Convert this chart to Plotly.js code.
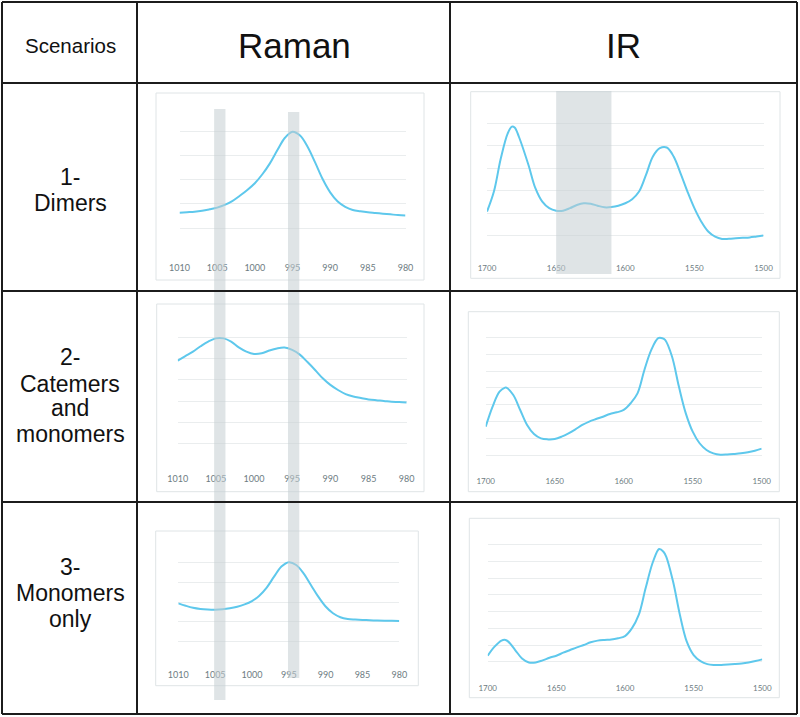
<!DOCTYPE html>
<html>
<head>
<meta charset="utf-8">
<script src="https://cdn.plot.ly/plotly-3.0.1.min.js"></script>
<style>html,body{margin:0;padding:0;background:#fff}#chart{width:800px;height:717px}</style>
</head>
<body>
<div id="chart"></div>
<script>
// ---------- data ----------
const headers = ["Scenarios", "Raman", "IR"];
const scenarioLines = [["1-", "Dimers"], ["2-", "Catemers", "and", "monomers"], ["3-", "Monomers", "only"]];

const ramanTicks = [1010, 1005, 1000, 995, 990, 985, 980];
const irTicks = [1700, 1650, 1600, 1550, 1500];

// Raman, scenario 1 (dimers)
const raman1X = [1010, 1009, 1008, 1007, 1006, 1005, 1004, 1003, 1002, 1001, 1000, 999, 998, 997, 996, 995, 994, 993, 992, 991, 990, 989, 988, 987, 986, 985, 984, 983, 982, 981, 980];
const raman1Y = [1.64, 1.66, 1.68, 1.72, 1.78, 1.85, 1.96, 2.12, 2.34, 2.58, 2.86, 3.23, 3.68, 4.23, 4.74, 4.99, 4.83, 4.37, 3.72, 3.03, 2.48, 2.10, 1.88, 1.75, 1.70, 1.66, 1.63, 1.60, 1.57, 1.54, 1.52];

// Raman, scenario 2 (catemers and monomers)
const raman2X = [1010, 1009, 1008, 1007, 1006, 1005, 1004, 1003, 1002, 1001, 1000, 999, 998, 997, 996, 995, 994, 993, 992, 991, 990, 989, 988, 987, 986, 985, 984, 983, 982, 981, 980];
const raman2Y = [4.91, 5.12, 5.33, 5.58, 5.80, 5.95, 5.95, 5.80, 5.53, 5.33, 5.22, 5.25, 5.38, 5.48, 5.52, 5.41, 5.19, 4.84, 4.47, 4.08, 3.77, 3.53, 3.34, 3.23, 3.16, 3.09, 3.05, 3.02, 2.98, 2.97, 2.95];

// Raman, scenario 3 (monomers only)
const raman3X = [1010, 1009, 1008, 1007, 1006, 1005, 1004, 1003, 1002, 1001, 1000, 999, 998, 997, 996, 995, 994, 993, 992, 991, 990, 989, 988, 987, 986, 985, 984, 983, 982, 981, 980];
const raman3Y = [2.93, 2.81, 2.71, 2.65, 2.62, 2.61, 2.63, 2.68, 2.76, 2.88, 3.05, 3.32, 3.73, 4.28, 4.79, 5.01, 4.87, 4.45, 3.86, 3.27, 2.77, 2.43, 2.23, 2.14, 2.11, 2.09, 2.08, 2.06, 2.05, 2.05, 2.04];

// IR, scenario 1
const ir1X = [1700, 1695, 1690, 1685, 1682, 1680, 1677, 1670, 1665, 1660, 1655, 1650, 1645, 1640, 1635, 1630, 1625, 1620, 1615, 1610, 1605, 1600, 1595, 1590, 1585, 1580, 1575, 1570, 1565, 1560, 1555, 1550, 1545, 1540, 1535, 1530, 1525, 1520, 1515, 1510, 1505, 1500];
const ir1Y = [2.08, 2.97, 4.45, 5.56, 5.86, 5.82, 5.42, 4.15, 3.12, 2.52, 2.23, 2.12, 2.12, 2.23, 2.37, 2.45, 2.43, 2.34, 2.27, 2.28, 2.34, 2.45, 2.63, 2.97, 3.71, 4.53, 4.90, 4.93, 4.53, 3.78, 2.97, 2.23, 1.63, 1.19, 0.96, 0.86, 0.87, 0.89, 0.91, 0.93, 0.97, 1.01];

// IR, scenario 2
const ir2X = [1700, 1695, 1690, 1686, 1685, 1680, 1675, 1670, 1665, 1660, 1655, 1650, 1645, 1640, 1635, 1630, 1625, 1620, 1615, 1610, 1605, 1600, 1595, 1590, 1585, 1580, 1575, 1572, 1570, 1565, 1560, 1555, 1550, 1545, 1540, 1535, 1530, 1525, 1520, 1515, 1510, 1505, 1500];
const ir2Y = [2.70, 3.89, 4.78, 5.02, 5.02, 4.58, 3.69, 2.80, 2.26, 2.00, 1.94, 1.96, 2.10, 2.30, 2.54, 2.80, 3.00, 3.15, 3.29, 3.45, 3.55, 3.69, 4.09, 4.68, 6.07, 7.26, 7.96, 7.96, 7.86, 6.87, 5.08, 3.49, 2.40, 1.71, 1.31, 1.11, 1.03, 1.04, 1.07, 1.11, 1.17, 1.26, 1.39];

// IR, scenario 3
const ir3X = [1700, 1695, 1690, 1687, 1685, 1680, 1675, 1670, 1665, 1660, 1655, 1650, 1645, 1640, 1635, 1630, 1625, 1620, 1615, 1610, 1605, 1600, 1595, 1590, 1585, 1580, 1576, 1575, 1572, 1570, 1565, 1560, 1555, 1550, 1545, 1540, 1535, 1530, 1525, 1520, 1515, 1510, 1505, 1500];
const ir3Y = [1.37, 1.91, 2.27, 2.31, 2.21, 1.71, 1.21, 0.97, 0.97, 1.09, 1.25, 1.37, 1.55, 1.71, 1.87, 2.01, 2.17, 2.27, 2.31, 2.33, 2.41, 2.54, 3.00, 3.80, 5.39, 6.88, 7.67, 7.73, 7.57, 7.28, 5.79, 3.80, 2.21, 1.41, 1.05, 0.87, 0.82, 0.82, 0.84, 0.87, 0.91, 0.97, 1.05, 1.15];

// highlighted regions
const ramanBand1 = [1005.4, 1003.9];
const ramanBand2 = [995.6, 994.1];
const irBand = [1650, 1610];

// ---------- layout helpers ----------
const W = 800, H = 717;
const px = x => x / W;
const py = y => 1 - y / H;

const LINE = '#5ec8ec';
const GRID = '#eaedee';
const FRAME = '#dfe4e6';
const TICKC = '#6d7c82';

// panel geometry (pixel positions in the page)
const panels = [
  {x: raman1X, y: raman1Y, xd: [179.5, 405.5], yd: [252.3, 107.3], n: 6, xr: [1010, 980], tv: ramanTicks, fs: 9, so: 8, fr: [156, 424, 93, 280]},
  {x: raman2X, y: raman2Y, xd: [177.7, 406.7], yd: [465.3, 316], n: 7, xr: [1010, 980], tv: ramanTicks, fs: 9, so: 6, fr: [156.7, 424, 304, 491.7]},
  {x: raman3X, y: raman3Y, xd: [178.3, 399.3], yd: [661.3, 542.7], n: 6, xr: [1010, 980], tv: ramanTicks, fs: 9, so: 6, fr: [155.7, 418.3, 531, 685.7]},
  {x: ir1X, y: ir1Y, xd: [487, 763.5], yd: [258.3, 101], n: 7, xr: [1700, 1500], tv: irTicks, fs: 8, so: 3, fr: [470.7, 780, 91.7, 278.3]},
  {x: ir2X, y: ir2Y, xd: [485.7, 761.7], yd: [472, 320.7], n: 9, xr: [1700, 1500], tv: irTicks, fs: 8, so: 3, fr: [468.3, 779.3, 311.7, 491.7]},
  {x: ir3X, y: ir3Y, xd: [487.7, 762.3], yd: [678.7, 527.7], n: 9, xr: [1700, 1500], tv: irTicks, fs: 8, so: 3, fr: [469.3, 779.3, 518.3, 697.7]}
];

const traces = [];
const layout = {
  width: W, height: H,
  margin: {l: 0, r: 0, t: 0, b: 0},
  paper_bgcolor: '#ffffff',
  plot_bgcolor: 'rgba(0,0,0,0)',
  showlegend: false,
  shapes: [],
  annotations: []
};

panels.forEach((p, i) => {
  const k = i + 1;
  const xa = k === 1 ? 'x' : 'x' + k;
  const ya = k === 1 ? 'y' : 'y' + k;
  traces.push({
    type: 'scatter', mode: 'lines', x: p.x, y: p.y,
    xaxis: xa, yaxis: ya,
    line: {color: LINE, width: 2, shape: 'spline', smoothing: 1},
    hoverinfo: 'skip'
  });
  const pad = 0.02;
  const span = p.yd[0] - p.yd[1];
  const padPx = span / p.n * pad;
  layout['xaxis' + (k === 1 ? '' : k)] = {
    domain: [px(p.xd[0]), px(p.xd[1])],
    range: p.xr,
    anchor: ya,
    tickmode: 'array', tickvals: p.tv, ticktext: p.tv.map(String),
    showgrid: false, zeroline: false, showline: false, ticks: '',
    ticklabelstandoff: p.so,
    tickfont: {family: 'Lato, "Open Sans", sans-serif', size: p.fs, color: TICKC},
    fixedrange: true
  };
  layout['yaxis' + (k === 1 ? '' : k)] = {
    domain: [py(p.yd[0] + padPx), py(p.yd[1] - padPx)],
    range: [-pad, p.n + pad],
    anchor: xa,
    dtick: 1, tick0: 0,
    showgrid: true, gridcolor: GRID, gridwidth: 1,
    zeroline: false, showline: false, showticklabels: false, ticks: '',
    fixedrange: true
  };
  // panel frame
  layout.shapes.push({type: 'rect', xref: 'paper', yref: 'paper', layer: 'below',
    x0: px(p.fr[0]), x1: px(p.fr[1]), y0: py(p.fr[3]), y1: py(p.fr[2]),
    line: {color: FRAME, width: 1}, fillcolor: 'rgba(0,0,0,0)'});
});

// highlight bands (above the curves, semi-transparent grey)
const BAND = 'rgba(196,206,209,0.55)';
layout.shapes.push({type: 'rect', xref: 'x', yref: 'paper', layer: 'above',
  x0: ramanBand1[0], x1: ramanBand1[1], y0: py(700), y1: py(109),
  line: {width: 0}, fillcolor: BAND});
layout.shapes.push({type: 'rect', xref: 'x', yref: 'paper', layer: 'above',
  x0: ramanBand2[0], x1: ramanBand2[1], y0: py(678), y1: py(112),
  line: {width: 0}, fillcolor: BAND});
layout.shapes.push({type: 'rect', xref: 'x4', yref: 'paper', layer: 'above',
  x0: irBand[0], x1: irBand[1], y0: py(274), y1: py(91),
  line: {width: 0}, fillcolor: BAND});

// table grid
const TL = '#1c1c1c';
const tline = (x0, y0, x1, y1) => layout.shapes.push({type: 'line', xref: 'paper', yref: 'paper',
  x0: px(x0), y0: py(y0), x1: px(x1), y1: py(y1), line: {color: TL, width: 2}});
tline(2, 2, 797, 2);
tline(2, 714, 797, 714);
tline(2, 2, 2, 714);
tline(797, 2, 797, 714);
tline(137, 2, 137, 714);
tline(450, 2, 450, 714);
tline(2, 83, 797, 83);
tline(2, 291, 797, 291);
tline(2, 502, 797, 502);

// header + row texts
const FONT = 'Liberation Sans, Arial, sans-serif';
const ann = (text, x, y, size) => layout.annotations.push({text, xref: 'paper', yref: 'paper',
  x: px(x), y: py(y), xanchor: 'center', yanchor: 'middle', showarrow: false,
  font: {family: FONT, size, color: '#111'}, align: 'center'});
ann(headers[0], 70, 45, 20.5);
ann(headers[1], 294, 45, 35);
ann(headers[2], 623, 45, 35);
const rowLineY = [[177, 203], [357, 384, 408, 434], [567, 593, 619]];
scenarioLines.forEach((lines, r) => lines.forEach((t, j) => ann(t, 70, rowLineY[r][j], 23)));

Plotly.newPlot('chart', traces, layout, {staticPlot: true, displayModeBar: false});
</script>
</body>
</html>
